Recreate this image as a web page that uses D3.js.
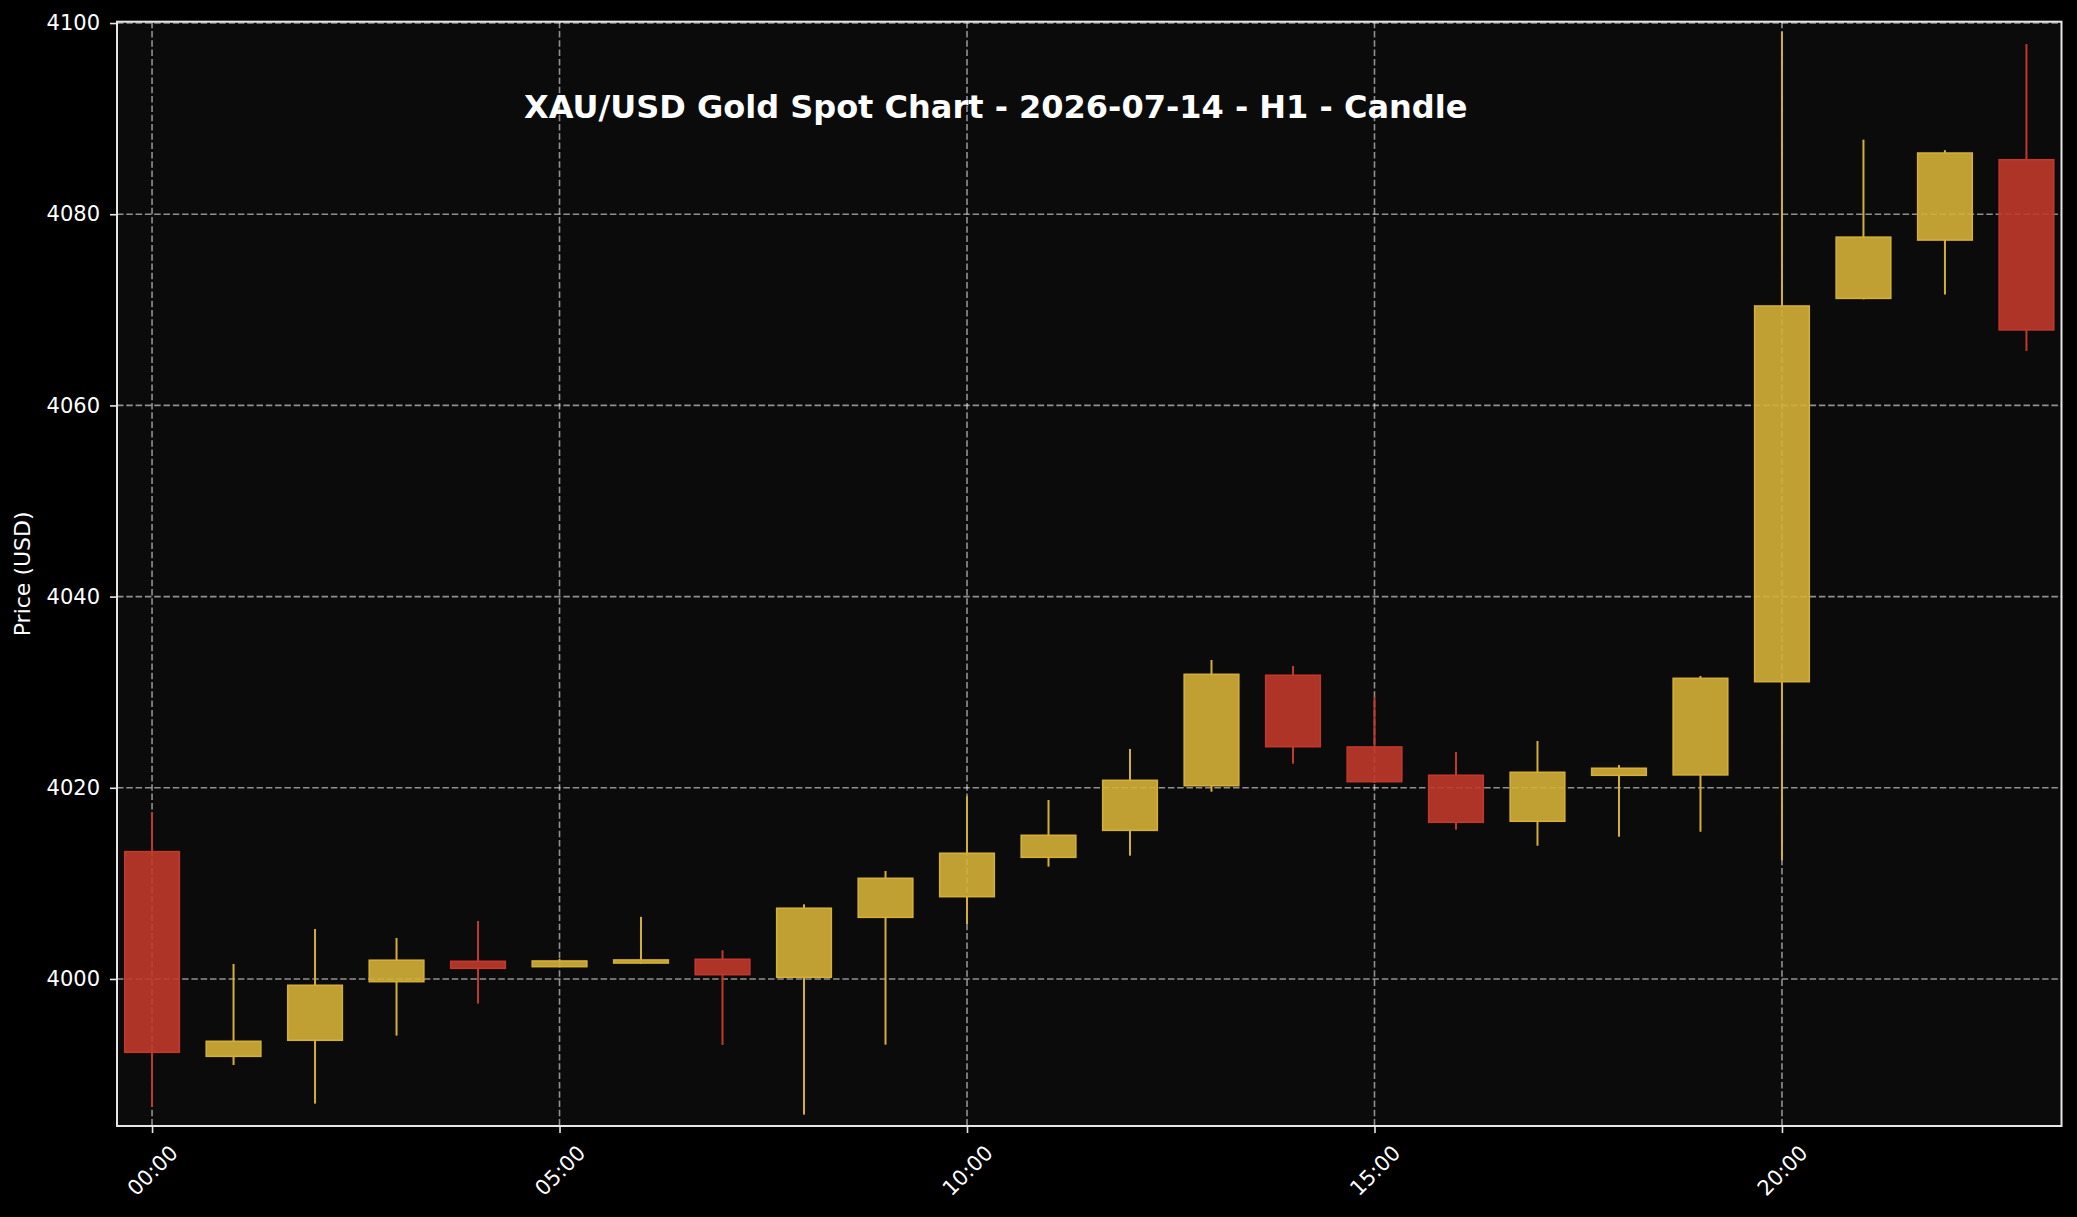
<!DOCTYPE html>
<html>
<head>
<meta charset="utf-8">
<script src="https://cdn.jsdelivr.net/npm/d3@7"></script>
<style>
  body { margin: 0; background: #000; }
  svg { display: block; }
  text { font-family: "DejaVu Sans", sans-serif; }
</style>
</head>
<body>
<script>
// hourly candles, 2026-07-14
var hours  = [0, 1, 2, 3, 4, 5, 6, 7, 8, 9, 10, 11, 12, 13, 14, 15, 16, 17, 18, 19, 20, 21, 22, 23];
var opens  = [4013.32, 3991.91, 3993.59, 3999.72, 4001.85, 4001.29, 4001.67, 4002.06, 4000.18, 4006.45, 4008.61, 4012.73,
              4015.55, 4020.22, 4031.77, 4024.27, 4021.31, 4016.50, 4021.31, 4021.35, 4031.10, 4071.20, 4077.30, 4085.70];
var highs  = [4017.44, 4001.57, 4005.23, 4004.29, 4006.07, 4002.09, 4006.50, 4003.00, 4007.81, 4011.30, 4019.11, 4018.72,
              4024.06, 4033.37, 4032.74, 4029.53, 4023.74, 4024.90, 4022.38, 4031.70, 4099.10, 4087.80, 4086.70, 4097.80];
var lows   = [3986.64, 3991.00, 3986.96, 3994.07, 3997.42, 4001.25, 4001.60, 3993.10, 3985.81, 3993.13, 4005.75, 4011.75,
              4012.90, 4019.59, 4022.52, 4020.50, 4015.62, 4013.94, 4014.88, 4015.40, 4012.40, 4071.10, 4071.60, 4065.70];
var closes = [3992.33, 3993.48, 3999.34, 4001.96, 4001.12, 4001.88, 4001.99, 4000.45, 4007.40, 4010.53, 4013.15, 4015.03,
              4020.78, 4031.87, 4024.30, 4020.64, 4016.39, 4021.62, 4022.04, 4031.45, 4070.40, 4077.60, 4086.40, 4067.90];

var xTicks = [0, 5, 10, 15, 20];
var yTicks = [4000, 4020, 4040, 4060, 4080, 4100];
var title = "XAU/USD Gold Spot Chart - 2026-07-14 - H1 - Candle";
var yLabel = "Price (USD)";

var W = 2077, H = 1217;
var plotLeft = 117, plotRight = 2061.5, plotTop = 21.7, plotBottom = 1126;
var upColor = "#D4AF37", downColor = "#C0392B";
var bodyWidth = 0.67;

var candles = hours.map(function(h, i) {
  return {hour: h, open: opens[i], high: highs[i], low: lows[i], close: closes[i]};
});

var svg = d3.select("body").append("svg")
  .attr("width", W)
  .attr("height", H);

svg.append("rect")
  .attr("width", W).attr("height", H)
  .attr("fill", "#000");

svg.append("rect")
  .attr("x", plotLeft).attr("y", plotTop)
  .attr("width", plotRight - plotLeft).attr("height", plotBottom - plotTop)
  .attr("fill", "#0b0b0b");

var x = d3.scaleLinear().domain([-0.43, 23.43]).range([plotLeft, plotRight]);
var y = d3.scaleLinear().domain([3984.62, 4100.14]).range([plotBottom, plotTop]);

// grid
var grid = svg.append("g");
grid.selectAll(".vgrid").data(xTicks).enter().append("line")
  .attr("x1", function(d) { return x(d); })
  .attr("x2", function(d) { return x(d); })
  .attr("y1", plotTop).attr("y2", plotBottom)
  .attr("stroke", "#fff").attr("stroke-opacity", 0.55)
  .attr("stroke-width", 1.6).attr("stroke-dasharray", "6.5,2.8");
grid.selectAll(".hgrid").data(yTicks).enter().append("line")
  .attr("x1", plotLeft).attr("x2", plotRight)
  .attr("y1", function(d) { return y(d); })
  .attr("y2", function(d) { return y(d); })
  .attr("stroke", "#fff").attr("stroke-opacity", 0.55)
  .attr("stroke-width", 1.6).attr("stroke-dasharray", "6.5,2.8");

// candles
var color = function(d) { return d.close >= d.open ? upColor : downColor; };
var g = svg.selectAll(".candle")
  .data(candles)
  .enter()
  .append("g")
  .classed("candle", true);

g.append("line")
  .attr("x1", function(d) { return x(d.hour); })
  .attr("x2", function(d) { return x(d.hour); })
  .attr("y1", function(d) { return y(d.high); })
  .attr("y2", function(d) { return y(Math.max(d.open, d.close)); })
  .attr("stroke", color).attr("stroke-width", 2);

g.append("line")
  .attr("x1", function(d) { return x(d.hour); })
  .attr("x2", function(d) { return x(d.hour); })
  .attr("y1", function(d) { return y(Math.min(d.open, d.close)); })
  .attr("y2", function(d) { return y(d.low); })
  .attr("stroke", color).attr("stroke-width", 2);

g.append("rect")
  .attr("x", function(d) { return x(d.hour - bodyWidth / 2); })
  .attr("width", x(bodyWidth) - x(0))
  .attr("y", function(d) { return y(Math.max(d.open, d.close)); })
  .attr("height", function(d) { return Math.max(1, y(Math.min(d.open, d.close)) - y(Math.max(d.open, d.close))); })
  .attr("fill", color).attr("fill-opacity", 0.9)
  .attr("stroke", color).attr("stroke-width", 1.6);

// axes
var xAxis = d3.axisBottom(x)
  .tickValues(xTicks)
  .tickSize(7)
  .tickFormat(function(d) { return (d < 10 ? "0" : "") + d + ":00"; });
var xg = svg.append("g")
  .attr("transform", "translate(0," + plotBottom + ")")
  .call(xAxis);
xg.select(".domain").remove();
xg.selectAll(".tick line").attr("stroke", "#e6e6e6").attr("stroke-width", 1.6);
xg.selectAll(".tick text")
  .attr("fill", "#fff")
  .style("font-size", "21px")
  .attr("y", 0).attr("dy", "0.35em")
  .attr("text-anchor", "middle")
  .attr("transform", "translate(0,44.5) rotate(-45)");

var yAxis = d3.axisLeft(y)
  .tickValues(yTicks)
  .tickSize(7)
  .tickFormat(d3.format("d"));
var yg = svg.append("g")
  .attr("transform", "translate(" + plotLeft + ",0)")
  .call(yAxis);
yg.select(".domain").remove();
yg.selectAll(".tick line").attr("stroke", "#e6e6e6").attr("stroke-width", 1.6);
yg.selectAll(".tick text")
  .attr("fill", "#fff")
  .style("font-size", "21px")
  .attr("x", -17);

// spines
svg.append("rect")
  .attr("x", plotLeft).attr("y", plotTop)
  .attr("width", plotRight - plotLeft).attr("height", plotBottom - plotTop)
  .attr("fill", "none")
  .attr("stroke", "#e6e6e6").attr("stroke-width", 2);

svg.append("text")
  .attr("transform", "translate(22.5," + ((plotTop + plotBottom) / 2) + ") rotate(-90)")
  .attr("text-anchor", "middle")
  .attr("dy", "0.35em")
  .attr("fill", "#fff")
  .style("font-size", "22px")
  .text(yLabel);

svg.append("text")
  .attr("x", 995.7)
  .attr("y", 118.3)
  .attr("text-anchor", "middle")
  .attr("fill", "#fff")
  .style("font-size", "32px")
  .style("font-weight", "bold")
  .text(title);
</script>
</body>
</html>
